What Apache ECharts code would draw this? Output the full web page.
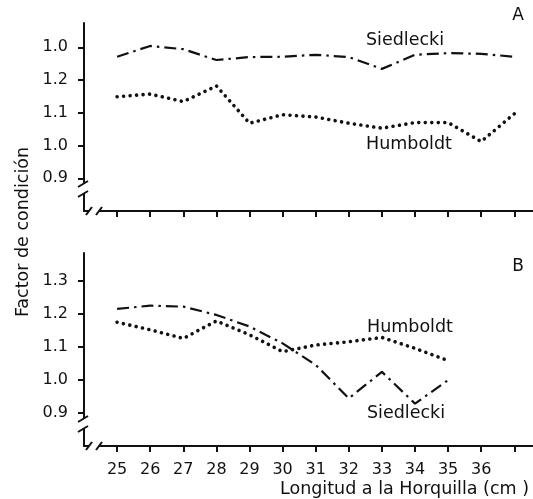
<!DOCTYPE html>
<html><head><meta charset="utf-8">
<script src="https://cdn.jsdelivr.net/npm/echarts@6/dist/echarts.min.js"></script>
<style>html,body{margin:0;padding:0;background:#fff}#c{width:533px;height:499px}</style>
</head><body><div id="c"></div>
<script>
// ---- data ----
const lengthsA = [25,26,27,28,29,30,31,32,33,34,35,36,37];
const siedleckiA = [1.271,1.304,1.294,1.261,1.270,1.271,1.277,1.270,1.234,1.277,1.282,1.280,1.271];
const humboldtA  = [1.149,1.157,1.134,1.182,1.068,1.094,1.087,1.068,1.053,1.070,1.070,1.012,1.097];
const lengthsB = [25,26,27,28,29,30,31,32,33,34,35];
const siedleckiB = [1.214,1.224,1.221,1.196,1.161,1.110,1.045,0.944,1.024,0.928,0.999];
const humboldtB  = [1.174,1.151,1.125,1.178,1.136,1.085,1.105,1.115,1.128,1.095,1.058];
const xTickValues = [25,26,27,28,29,30,31,32,33,34,35,36,37];
const xLabelValues = [25,26,27,28,29,30,31,32,33,34,35,36];
const yTickValues = [0.9,1.0,1.1,1.2,1.3];
const yTickLabelsA = ['0.9','1.0','1.1','1.2','1.0'];
const yTickLabelsB = ['0.9','1.0','1.1','1.2','1.3'];

// ---- layout ----
const FONT = 'DejaVu Sans';
const INK = '#111';
const GA = {left:84, top:23, width:449, height:188};
const GB = {left:84, top:253, width:449, height:193};
const X_MIN = 24, X_MAX = 24 + 449/33.1;
const Y_MIN = 0.8;

const pair = (xs, ys) => xs.map((x,i)=>[x, ys[i]]);
const yFmt = labels => v => { const i = yTickValues.findIndex(t=>Math.abs(t-v)<1e-6); return i<0 ? '' : labels[i]; };

function xAxis(gi, showLabels){
  return {
    type:'value', gridIndex:gi, min:X_MIN, max:X_MAX,
    axisLine:{show:true, lineStyle:{color:INK, width:2}},
    axisTick:{show:true, inside:false, length:6, lineStyle:{color:INK, width:2}, customValues:xTickValues},
    axisLabel:{show:showLabels, customValues:xLabelValues, margin:16, color:INK, fontFamily:FONT, fontSize:16},
    splitLine:{show:false}
  };
}
function yAxis(gi, max, labels){
  return {
    type:'value', gridIndex:gi, min:Y_MIN, max:max,
    axisLine:{show:true, lineStyle:{color:INK, width:2}},
    axisTick:{show:true, inside:false, length:6, lineStyle:{color:INK, width:2}, customValues:yTickValues},
    axisLabel:{show:true, customValues:yTickValues, formatter:yFmt(labels), margin:16, color:INK, fontFamily:FONT, fontSize:16},
    splitLine:{show:false}
  };
}
const dashDot = {color:INK, width:2.2, type:[12,5,2.5,5]};
const dotted = {color:INK, width:3.6, type:[0.01,6.5], cap:'round'};
function line(xi, yi, data, style){
  return {type:'line', xAxisIndex:xi, yAxisIndex:yi, data:data, showSymbol:false, symbol:'none', lineStyle:style, silent:true, animation:false};
}

function breakMarks(g){
  const x0 = g.left, yb = g.top + g.height;
  const els = [];
  // y-axis break
  els.push({type:'rect', shape:{x:x0-4, y:yb-27, width:8, height:10}, style:{fill:'#fff'}, z:100});
  els.push({type:'line', shape:{x1:x0-6, y1:yb-24, x2:x0+4, y2:yb-30}, style:{stroke:INK, lineWidth:2}, z:101});
  els.push({type:'line', shape:{x1:x0-6, y1:yb-14, x2:x0+4, y2:yb-20}, style:{stroke:INK, lineWidth:2}, z:101});
  // x-axis break
  els.push({type:'rect', shape:{x:x0+5, y:yb-4, width:10, height:8}, style:{fill:'#fff'}, z:100});
  els.push({type:'line', shape:{x1:x0+2, y1:yb+4, x2:x0+8, y2:yb-4}, style:{stroke:INK, lineWidth:2}, z:101});
  els.push({type:'line', shape:{x1:x0+12, y1:yb+4, x2:x0+18, y2:yb-4}, style:{stroke:INK, lineWidth:2}, z:101});
  return els;
}
function txt(t, x, y, align, size, rot){
  return {type:'text', x:x, y:y, rotation:rot||0, style:{text:t, fill:INK, font:`${size||17}px "${FONT}"`, align:align||'left', verticalAlign:'middle'}, z:110};
}

const chart = echarts.init(document.getElementById('c'), null, {renderer:'canvas'});
chart.setOption({
  animation:false,
  backgroundColor:'#fff',
  grid:[GA, GB],
  xAxis:[xAxis(0,false), xAxis(1,true)],
  yAxis:[yAxis(0, Y_MIN + 188/327.5, yTickLabelsA), yAxis(1, Y_MIN + 193/331, yTickLabelsB)],
  series:[
    line(0,0,pair(lengthsA, siedleckiA), dashDot),
    line(0,0,pair(lengthsA, humboldtA), dotted),
    line(1,1,pair(lengthsB, siedleckiB), dashDot),
    line(1,1,pair(lengthsB, humboldtB), dotted)
  ],
  graphic:[
    ...breakMarks(GA), ...breakMarks(GB),
    txt('A', 518, 16, 'center', 17),
    txt('B', 518, 267, 'center', 17),
    txt('Siedlecki', 366, 40, 'left', 17.5),
    txt('Humboldt', 366, 144, 'left', 17.5),
    txt('Humboldt', 367, 327, 'left', 17.5),
    txt('Siedlecki', 367, 413, 'left', 17.5),
    txt('Longitud a la Horquilla (cm )', 529, 489, 'right', 17.5),
    txt('Factor de condición', 23, 232, 'center', 17.5, Math.PI/2)
  ]
});
</script></body></html>
